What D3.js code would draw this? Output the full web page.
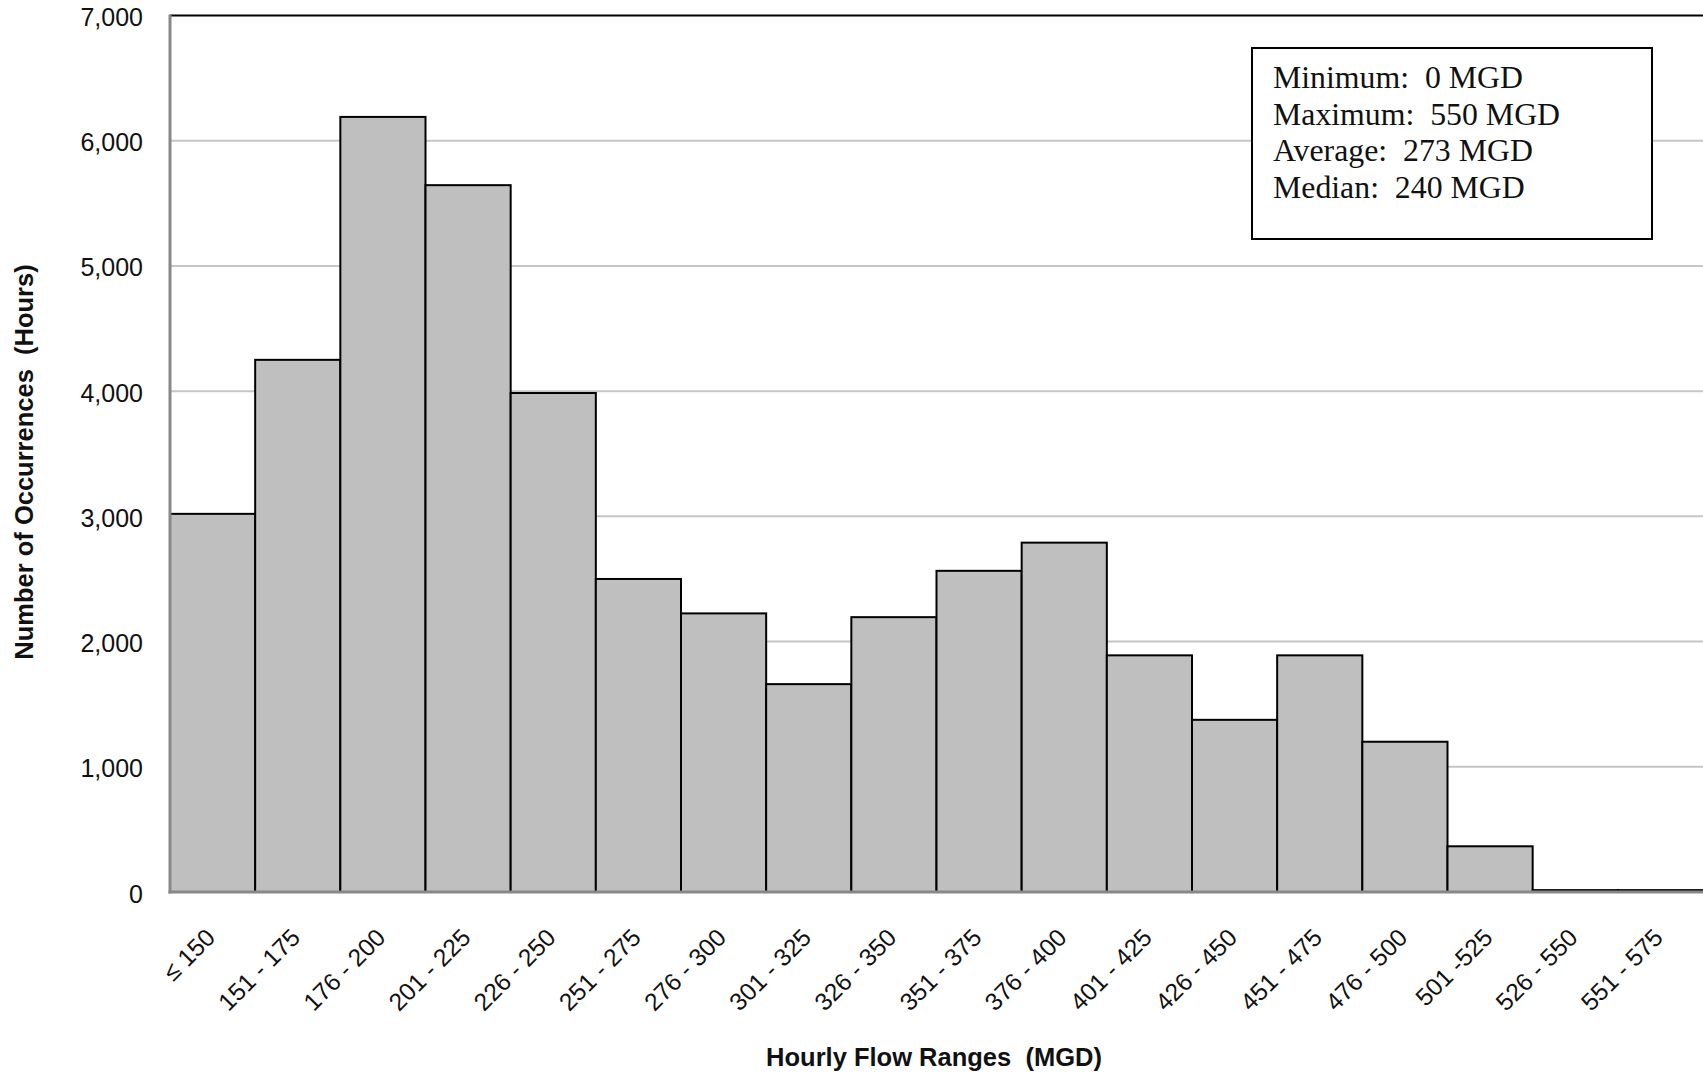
<!DOCTYPE html>
<html lang="en">
<head>
  <meta charset="UTF-8" />
  <title>Hourly Flow Ranges</title>
  <style>
    body { margin: 0; background: #fff; }
    svg { display: block; }
    text { white-space: pre; }
  </style>
</head>
<body>
  <svg id="chart"></svg>

  <script src="https://d3js.org/d3.v7.min.js"></script>
  <script>
    // flow range bins (MGD)
    const ranges = ["\u2264 150", "151 - 175", "176 - 200", "201 - 225", "226 - 250", "251 - 275",
      "276 - 300", "301 - 325", "326 - 350", "351 - 375", "376 - 400", "401 - 425",
      "426 - 450", "451 - 475", "476 - 500", "501 -525", "526 - 550", "551 - 575"];

    // number of occurrences (hours) per bin
    const hours = [3020, 4250, 6190, 5645, 3985, 2500, 2225, 1660, 2195, 2565, 2790,
      1890, 1375, 1890, 1200, 365, 15, 15];

    const yTicks = [0, 1000, 2000, 3000, 4000, 5000, 6000, 7000];

    const stats = ["Minimum:  0 MGD", "Maximum:  550 MGD", "Average:  273 MGD", "Median:  240 MGD"];

    const W = 1703, H = 1073;
    const plot = {left: 170, right: 1703, top: 15.5, bottom: 892};
    const sans = "'Liberation Sans', Arial, sans-serif";

    const svg = d3.select("#chart").attr("width", W).attr("height", H);

    const x = d3.scaleBand().domain(ranges).range([plot.left, plot.right]).padding(0);
    const y = d3.scaleLinear().domain([0, 7000]).range([plot.bottom, plot.top]);

    // gridlines
    svg.append("g")
      .selectAll("line")
      .data(yTicks.filter(d => d > 0 && d < 7000))
      .join("line")
      .attr("x1", plot.left).attr("x2", plot.right)
      .attr("y1", d => y(d)).attr("y2", d => y(d))
      .attr("stroke", "#c6c6c6")
      .attr("stroke-width", 2);

    // top border
    svg.append("line")
      .attr("x1", plot.left).attr("x2", plot.right + 2)
      .attr("y1", y(7000)).attr("y2", y(7000))
      .attr("stroke", "#000").attr("stroke-width", 2);

    // bars
    svg.append("g")
      .selectAll("rect")
      .data(hours)
      .join("rect")
      .attr("x", (d, i) => x(ranges[i]))
      .attr("y", d => y(d))
      .attr("width", x.bandwidth())
      .attr("height", d => y(0) - y(d))
      .attr("fill", "#bfbfbf")
      .attr("stroke", "#000")
      .attr("stroke-width", 2);

    // y axis
    const yAxis = svg.append("g")
      .attr("transform", `translate(${plot.left},0)`)
      .call(d3.axisLeft(y).tickValues(yTicks).tickFormat(d3.format(",")).tickSize(0).tickPadding(27));
    yAxis.select(".domain").remove();
    yAxis.selectAll("text")
      .attr("font-family", sans)
      .attr("font-size", 25)
      .attr("fill", "#111")
      .attr("dy", "0.4em");

    // x axis
    const xAxis = svg.append("g")
      .attr("transform", `translate(0,${plot.bottom})`)
      .call(d3.axisBottom(x).tickSize(0));
    xAxis.select(".domain").remove();
    xAxis.selectAll("text")
      .attr("font-family", sans)
      .attr("font-size", 24.5)
      .attr("fill", "#111")
      .attr("text-anchor", "end")
      .attr("y", 0)
      .attr("dy", 0)
      .attr("transform", "translate(4,47) rotate(-45)");

    // axis lines
    svg.append("line")
      .attr("x1", plot.left).attr("x2", plot.left)
      .attr("y1", plot.top - 1).attr("y2", plot.bottom + 1.5)
      .attr("stroke", "#888").attr("stroke-width", 3);
    svg.append("line")
      .attr("x1", plot.left - 1.5).attr("x2", plot.right)
      .attr("y1", plot.bottom).attr("y2", plot.bottom)
      .attr("stroke", "#888").attr("stroke-width", 3);

    // axis titles
    svg.append("text")
      .attr("x", 934).attr("y", 1066)
      .attr("text-anchor", "middle")
      .attr("font-family", sans)
      .attr("font-weight", "bold")
      .attr("font-size", 25.5)
      .attr("fill", "#111")
      .text("Hourly Flow Ranges  (MGD)");

    svg.append("text")
      .attr("transform", "translate(33,462) rotate(-90)")
      .attr("text-anchor", "middle")
      .attr("font-family", sans)
      .attr("font-weight", "bold")
      .attr("font-size", 25.5)
      .attr("fill", "#111")
      .text("Number of Occurrences  (Hours)");

    // stats box
    const box = svg.append("g");
    box.append("rect")
      .attr("x", 1252).attr("y", 48)
      .attr("width", 400).attr("height", 191)
      .attr("fill", "#fff")
      .attr("stroke", "#000")
      .attr("stroke-width", 2);
    box.selectAll("text")
      .data(stats)
      .join("text")
      .attr("x", 1273)
      .attr("y", (d, i) => 88 + i * 36.7)
      .attr("font-family", "'Liberation Serif', 'Times New Roman', serif")
      .attr("font-size", 31.8)
      .attr("fill", "#111")
      .text(d => d);
  </script>
</body>
</html>
